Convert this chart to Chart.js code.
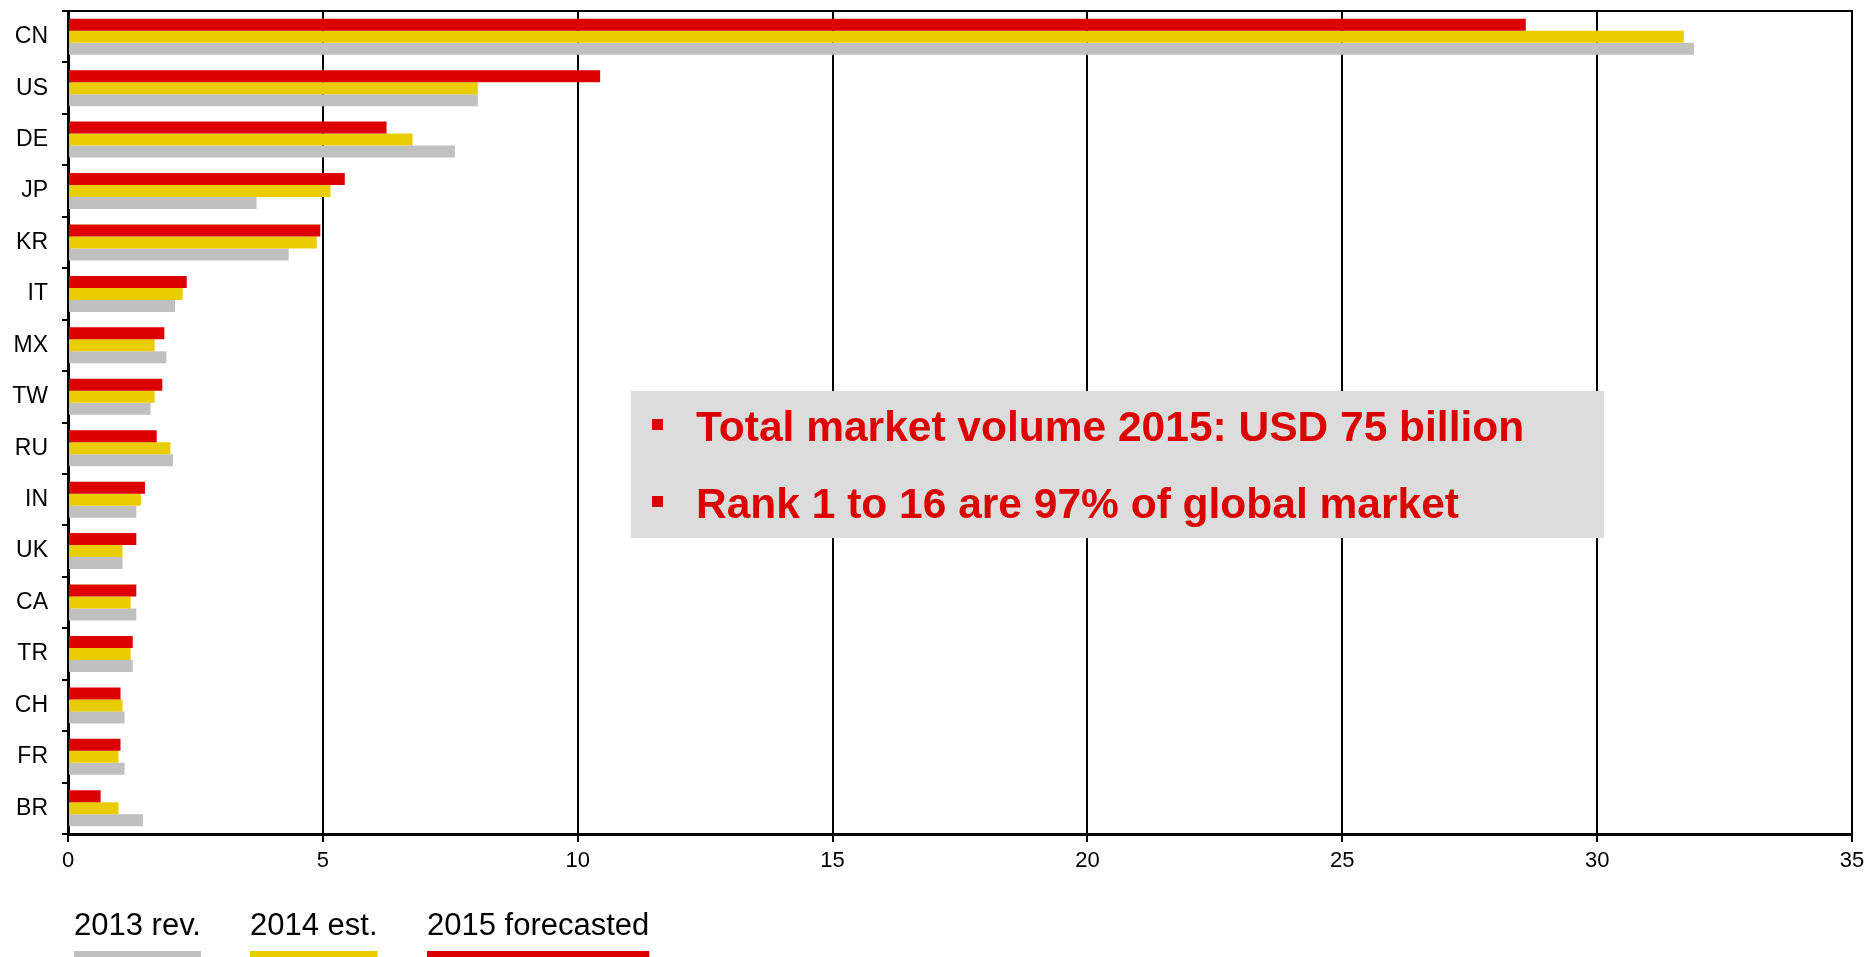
<!DOCTYPE html>
<html><head><meta charset="utf-8">
<script src="https://cdn.jsdelivr.net/npm/chart.js@4"></script>
<style>html,body{margin:0;padding:0;background:#fff;overflow:hidden}#wrap{position:relative;width:1875px;height:957px}</style>
</head><body><div id="wrap"><canvas id="c" width="1875" height="957"></canvas></div>
<script>
const countries = ["CN","US","DE","JP","KR","IT","MX","TW","RU","IN","UK","CA","TR","CH","FR","BR"];
const rev2013 = [31.9,8.04,7.59,3.70,4.33,2.10,1.93,1.62,2.06,1.34,1.07,1.34,1.27,1.11,1.11,1.47];
const est2014 = [31.7,8.04,6.76,5.15,4.88,2.25,1.70,1.70,2.01,1.43,1.07,1.23,1.23,1.07,0.99,0.99];
const fc2015 = [28.6,10.44,6.25,5.43,4.95,2.33,1.89,1.85,1.74,1.51,1.34,1.34,1.27,1.03,1.03,0.64];
const xTicks = [0,5,10,15,20,25,30,35];
const seriesLabels = ["2013 rev.","2014 est.","2015 forecasted"];
const seriesColors = ["#c0c0c0","#eacd00","#dc0000"];
const notes = ["Total market volume 2015: USD 75 billion","Rank 1 to 16 are 97% of global market"];

const FONT = '"Liberation Sans", Arial, sans-serif';

const deco = {
  id: 'deco',
  afterDatasetsDraw(chart) {
    const ctx = chart.ctx, a = chart.chartArea;
    ctx.save();
    ctx.strokeStyle = '#000'; ctx.lineWidth = 2;
    ctx.beginPath();
    ctx.moveTo(a.left, a.top); ctx.lineTo(a.right, a.top); ctx.lineTo(a.right, a.bottom);
    ctx.stroke();
    ctx.fillStyle = '#dcdcdc';
    ctx.fillRect(631, 391, 973, 147);
    ctx.fillStyle = '#dc0000';
    ctx.font = 'bold 42.5px ' + FONT;
    ctx.textBaseline = 'alphabetic'; ctx.textAlign = 'left';
    const baselines = [441, 518];
    notes.forEach((t, i) => {
      const by = baselines[i];
      ctx.fillRect(652, by - 22, 11, 11);
      ctx.fillText(t, 696, by);
    });
    ctx.font = '31px ' + FONT;
    const lx = [74, 250, 427];
    seriesLabels.forEach((t, i) => {
      ctx.fillStyle = '#000';
      ctx.fillText(t, lx[i], 935);
      const w = ctx.measureText(t).width;
      ctx.fillStyle = seriesColors[i];
      ctx.fillRect(lx[i], 951, w, 7);
    });
    ctx.restore();
  }
};

new Chart(document.getElementById('c'), {
  type: 'bar',
  data: {
    labels: countries,
    datasets: [
      { label: seriesLabels[2], data: fc2015, backgroundColor: seriesColors[2] },
      { label: seriesLabels[1], data: est2014, backgroundColor: seriesColors[1] },
      { label: seriesLabels[0], data: rev2013, backgroundColor: seriesColors[0] }
    ]
  },
  options: {
    indexAxis: 'y',
    responsive: false,
    animation: false,
    devicePixelRatio: 1,
    layout: { padding: { top: 11, right: 23, left: 0, bottom: 73 } },
    datasets: { bar: { categoryPercentage: 0.7, barPercentage: 1.0, borderWidth: 0 } },
    plugins: { legend: { display: false }, tooltip: { enabled: false } },
    scales: {
      x: {
        min: 0, max: 35,
        afterBuildTicks: s => { s.ticks = xTicks.map(v => ({ value: v })); },
        afterFit: s => { s.height = 50; s.paddingLeft = 0; s.paddingRight = 0; },
        grid: { color: '#000', lineWidth: 2, tickLength: 8, drawTicks: true },
        border: { display: true, color: '#000', width: 3 },
        ticks: { color: '#000', font: { family: FONT, size: 22 }, padding: 6, maxRotation: 0 }
      },
      y: {
        afterFit: s => { s.width = 68; s.paddingTop = 0; s.paddingBottom = 0; },
        grid: { drawOnChartArea: false, drawTicks: true, tickLength: 6, color: '#000', lineWidth: 2, offset: true },
        border: { display: true, color: '#000', width: 3 },
        ticks: { color: '#000', font: { family: FONT, size: 23 }, padding: 14 }
      }
    }
  },
  plugins: [deco]
});
</script>
</body></html>
